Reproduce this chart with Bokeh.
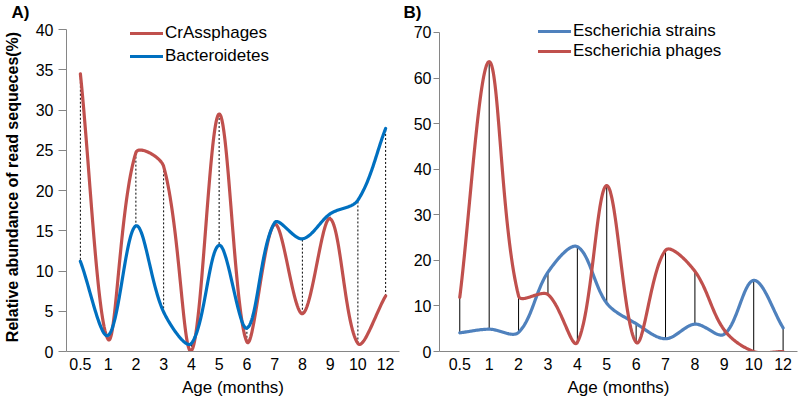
import numpy as np
from bokeh.plotting import figure
from bokeh.layouts import row
from bokeh.models import Range1d, FixedTicker, Legend, LegendItem
from bokeh.embed import file_html
from bokeh.resources import INLINE

# ---- data ----
ages = ["0.5", "1", "2", "3", "4", "5", "6", "7", "8", "9", "10", "12"]
crassphages = [34.5, 1.5, 24.7, 23.0, 0.1, 29.5, 1.2, 15.8, 4.7, 16.5, 1.0, 6.9]
bacteroidetes = [11.2, 2.0, 15.6, 4.9, 1.0, 13.2, 2.9, 16.0, 14.0, 17.1, 18.8, 27.7]
esch_strains = [4.1, 4.9, 4.2, 17.4, 23.0, 10.6, 6.1, 2.8, 6.0, 3.8, 15.6, 5.2]
esch_phages = [11.9, 63.6, 12.2, 12.5, 2.0, 36.4, 2.0, 22.2, 17.6, 4.7, 0.0, 0.0]
yticks_a = [0, 5, 10, 15, 20, 25, 30, 35, 40]
yticks_b = [0, 10, 20, 30, 40, 50, 60, 70]

RED = "#C0504D"
BLUE_A = "#0070C0"
BLUE_B = "#4F81BD"
AXIS = "#868686"
FONT = "Liberation Sans"


def smooth(xs, ys, kx, ky, n=40):
    """Excel-like smoothed line: chord-weighted Bezier through the data points
    (kx, ky = pixels per data unit, so the weighting is done in screen space)."""
    P = np.column_stack([np.asarray(xs, float) * kx, np.asarray(ys, float) * ky])
    m = len(P)
    L = np.hypot(*np.diff(P, axis=0).T)
    t = np.linspace(0, 1, n)[:, None]
    out = []
    for i in range(m - 1):
        a, b = P[i], P[i + 1]
        ia, ib = max(i - 1, 0), min(i + 2, m - 1)
        la = L[i - 1] if i > 0 else 0.0
        lb = L[i + 1] if i + 2 < m else 0.0
        c1 = a + (P[i + 1] - P[ia]) * L[i] / (la + L[i]) / 3
        c2 = b - (P[ib] - P[i]) * L[i] / (L[i] + lb) / 3
        seg = (1 - t) ** 3 * a + 3 * (1 - t) ** 2 * t * c1 + 3 * (1 - t) * t ** 2 * c2 + t ** 3 * b
        out.append(seg if i == 0 else seg[1:])
    out = np.vstack(out)
    return list(out[:, 0] / kx), list(out[:, 1] / ky)


def style(p, yticks, tag, tag_offset, tag_standoff):
    p.xgrid.visible = False
    p.ygrid.visible = False
    p.outline_line_color = None
    p.background_fill_color = "white"
    p.border_fill_color = "white"
    p.title.text = tag
    p.title.text_font = FONT
    p.title.text_font_size = "17px"
    p.title.text_font_style = "bold"
    p.title.text_color = "black"
    p.title.align = "left"
    p.title.offset = tag_offset
    p.title.standoff = tag_standoff
    ax = p.xaxis[0]
    ax.ticker = FixedTicker(ticks=list(range(len(ages))))
    ax.major_label_overrides = {i: a for i, a in enumerate(ages)}
    ax.major_tick_line_color = None
    ax.minor_tick_line_color = None
    ax.axis_line_color = AXIS
    ax.major_label_text_font = FONT
    ax.major_label_text_font_size = "16px"
    ax.major_label_text_color = "black"
    ax.major_label_standoff = 0
    ax.axis_label = "Age (months)"
    ax.axis_label_text_font = FONT
    ax.axis_label_text_font_size = "17px"
    ax.axis_label_text_font_style = "normal"
    ax.axis_label_text_color = "black"
    ax.axis_label_standoff = 5
    ay = p.yaxis[0]
    ay.ticker = FixedTicker(ticks=yticks)
    ay.bounds = (yticks[0], yticks[-1])
    ay.minor_tick_line_color = None
    ay.major_tick_in = 0
    ay.major_tick_line_color = AXIS
    ay.axis_line_color = AXIS
    ay.major_label_text_font = FONT
    ay.major_label_text_font_size = "16px"
    ay.major_label_text_color = "black"


xs = list(range(len(ages)))

# ---- panel A ----  (frame: x 66..399, y 22..351; 40 at y=29)
p1 = figure(width=400, height=400, output_backend="svg", toolbar_location=None,
            x_range=Range1d(-0.5, 11.5), y_range=Range1d(0, 40.87),
            min_border_left=66, min_border_right=1, min_border_top=22, min_border_bottom=49)
style(p1, yticks_a, "A)", -55, 1)
p1.yaxis[0].major_tick_out = 8
p1.yaxis[0].major_label_standoff = 5
p1.yaxis[0].axis_label = "Relative abundance of read sequeces(%)"
p1.yaxis[0].axis_label_text_font = FONT
p1.yaxis[0].axis_label_text_font_size = "16px"
p1.yaxis[0].axis_label_text_font_style = "bold"
p1.yaxis[0].axis_label_text_color = "black"
p1.yaxis[0].axis_label_standoff = 12

p1.segment(x0=xs, y0=crassphages, x1=xs, y1=bacteroidetes,
           line_color="black", line_width=1, line_dash="2 2")
sx, sy = smooth(xs, crassphages, 27.75, 8.05)
r_crass = p1.line(sx, sy, line_color=RED, line_width=3.2, line_join="round", line_cap="round")
sx, sy = smooth(xs, bacteroidetes, 27.75, 8.05)
r_bact = p1.line(sx, sy, line_color=BLUE_A, line_width=3.2, line_join="round", line_cap="round")

leg1 = Legend(items=[LegendItem(label="CrAssphages", renderers=[r_crass]),
                     LegendItem(label="Bacteroidetes", renderers=[r_bact])],
              location=(64, 285), glyph_width=33, glyph_height=20, label_height=20,
              spacing=3, padding=0, margin=0, label_standoff=2,
              border_line_color=None, background_fill_alpha=0,
              label_text_font=FONT, label_text_font_size="17px", label_text_color="black")
p1.add_layout(leg1)

# ---- panel B ----  (frame: x 439..797, y 22..351; 70 at y=32)
p2 = figure(width=400, height=400, output_backend="svg", toolbar_location=None,
            x_range=Range1d(-0.69, 11.49), y_range=Range1d(0, 72.19),
            min_border_left=39, min_border_right=3, min_border_top=22, min_border_bottom=49)
style(p2, yticks_b, "B)", -36, 1)
p2.yaxis[0].major_tick_out = 6
p2.yaxis[0].major_label_standoff = 2

p2.segment(x0=xs, y0=esch_strains, x1=xs, y1=esch_phages,
           line_color="black", line_width=1)
sx, sy = smooth(xs, esch_strains, 29.4, 4.57)
r_str = p2.line(sx, sy, line_color=BLUE_B, line_width=3.2, line_join="round", line_cap="round")
sx, sy = smooth(xs, esch_phages, 29.4, 4.57)
r_pha = p2.line(sx, sy, line_color=RED, line_width=3.2, line_join="round", line_cap="round")

leg2 = Legend(items=[LegendItem(label="Escherichia strains", renderers=[r_str]),
                     LegendItem(label="Escherichia phages", renderers=[r_pha])],
              location=(99, 290), glyph_width=33, glyph_height=20, label_height=20,
              spacing=0, padding=0, margin=0, label_standoff=2,
              border_line_color=None, background_fill_alpha=0,
              label_text_font=FONT, label_text_font_size="17px", label_text_color="black")
p2.add_layout(leg2)

layout = row(p1, p2, spacing=0)
open("out.html", "w").write(file_html(layout, INLINE))
